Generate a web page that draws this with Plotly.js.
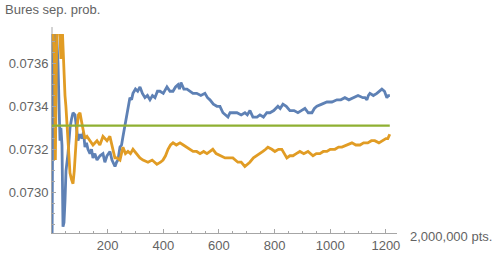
<!DOCTYPE html>
<html>
<head>
<meta charset="utf-8">
<script src="https://cdn.plot.ly/plotly-3.0.1.min.js"></script>
<style>html,body{margin:0;padding:0;background:#fff;}#chart{width:500px;height:257px;}</style>
</head>
<body>
<div id="chart"></div>
<script>
// Data (x in units shown on the axis, y = Bures separability probability)
const blueX = [0, 2, 4, 7, 10, 14, 18, 21.6, 25, 28.7, 32, 35.9, 39.5, 43.1, 46.7, 50.3, 57.5, 64.7, 70, 75.5, 82.6, 89.8, 93.4, 100.6, 107.8, 113, 118.6, 124, 129.3, 136.5, 142, 147.3, 154, 161.7, 172.5, 183.2, 190, 197.6, 208.4, 215.6, 226.4, 232, 237.1, 244.3, 250, 255.1, 262.3, 268, 273.1, 280, 286, 291, 300, 308, 316.2, 325, 334.1, 343, 352.1, 361, 370.1, 379, 388, 400, 413.2, 424, 434.8, 444, 452.7, 458, 463.5, 474, 485.1, 496, 506.6, 520, 535, 549.7, 559, 567.7, 580, 592.8, 603.6, 614.4, 621.6, 632.4, 640, 650.3, 664.7, 680, 693.4, 702, 711.4, 722.2, 736.6, 747.3, 760, 772, 783.3, 797, 812, 820, 830, 842, 855.1, 870, 883.9, 896, 909, 921, 934.2, 943, 952.1, 970, 988.1, 1006, 1024, 1038, 1052.7, 1067, 1081.5, 1100, 1117.4, 1125, 1131.8, 1137, 1142.6, 1155, 1167.7, 1177, 1185.7, 1195, 1203.6, 1209, 1214.4];
const blueY = [0.07270, 0.07380, 0.07380, 0.07372, 0.07366, 0.07380, 0.07372, 0.07360, 0.07342, 0.07324, 0.07330, 0.07322, 0.07284, 0.07286, 0.07296, 0.07310, 0.07318, 0.07330, 0.07334, 0.07337, 0.07336, 0.07326, 0.07324, 0.07327, 0.07325, 0.07328, 0.07321, 0.07323, 0.07320, 0.07318, 0.07320, 0.07316, 0.07318, 0.07315, 0.07317, 0.07318, 0.07314, 0.07317, 0.07319, 0.07315, 0.07312, 0.07314, 0.07315, 0.07321, 0.07322, 0.07326, 0.07331, 0.07335, 0.07339, 0.07344, 0.07343, 0.07346, 0.07348, 0.07347, 0.07349, 0.07346, 0.07344, 0.07345, 0.07343, 0.07345, 0.07344, 0.07347, 0.07347, 0.07346, 0.07349, 0.07347, 0.07347, 0.07349, 0.07350, 0.07348, 0.07351, 0.07348, 0.07348, 0.07347, 0.07346, 0.07346, 0.07345, 0.07346, 0.07344, 0.07343, 0.07341, 0.07340, 0.07340, 0.07337, 0.07336, 0.07335, 0.07337, 0.07337, 0.07337, 0.07336, 0.07337, 0.07336, 0.07338, 0.07335, 0.07335, 0.07336, 0.07335, 0.07337, 0.07337, 0.07338, 0.07340, 0.07339, 0.07341, 0.07340, 0.07338, 0.07338, 0.07337, 0.07338, 0.07339, 0.07337, 0.07337, 0.07339, 0.07340, 0.07341, 0.07342, 0.07342, 0.07343, 0.07343, 0.07344, 0.07343, 0.07344, 0.07345, 0.07344, 0.07344, 0.07343, 0.07345, 0.07346, 0.07345, 0.07346, 0.07347, 0.07348, 0.07347, 0.07344, 0.07345, 0.07345];

const orangeX = [0, 3.6, 5, 9, 12, 14, 17, 21.6, 28.7, 32, 35.9, 39.5, 43.1, 46.7, 50, 53.9, 57.5, 61, 64.7, 70, 75.5, 80, 85, 89.8, 95, 100.6, 106, 111.4, 118, 125.8, 136.5, 147.3, 161.7, 172, 183.2, 197.6, 208, 219, 226, 233.5, 244.3, 255, 264, 273, 282, 291, 303, 316, 327, 345, 360, 377, 390, 399, 408, 417, 426, 435, 447, 460, 472, 485, 496, 507, 520, 532, 545, 557, 568, 578, 590, 604, 622, 640, 650, 668, 680, 693, 711, 724, 737, 758, 768, 776, 790, 801, 814, 826, 835, 844, 855, 866, 878, 891, 905, 920, 938, 950, 963, 975, 988, 1000, 1017, 1030, 1042, 1060, 1078, 1092, 1107, 1120, 1135, 1148, 1160, 1175, 1189, 1200, 1207, 1214];
const orangeY = [0.07380, 0.07380, 0.07372, 0.07360, 0.07315, 0.07340, 0.07375, 0.07380, 0.07372, 0.07362, 0.07380, 0.07368, 0.07355, 0.07345, 0.07340, 0.07330, 0.07324, 0.07315, 0.07309, 0.07306, 0.07304, 0.07310, 0.07322, 0.07330, 0.07336, 0.07337, 0.07333, 0.07330, 0.07325, 0.07326, 0.07324, 0.07322, 0.07324, 0.07322, 0.07326, 0.07324, 0.07326, 0.07320, 0.07316, 0.07316, 0.07315, 0.07321, 0.07318, 0.07319, 0.07318, 0.07320, 0.07318, 0.07316, 0.07315, 0.07314, 0.07315, 0.07313, 0.07314, 0.07315, 0.07317, 0.07320, 0.07322, 0.07323, 0.07322, 0.07323, 0.07322, 0.07321, 0.07320, 0.07319, 0.07319, 0.07318, 0.07319, 0.07318, 0.07319, 0.07320, 0.07318, 0.07317, 0.07316, 0.07316, 0.07316, 0.07314, 0.07314, 0.07312, 0.07314, 0.07316, 0.07317, 0.07319, 0.07320, 0.07321, 0.07320, 0.07319, 0.07320, 0.07320, 0.07318, 0.07316, 0.07317, 0.07317, 0.07318, 0.07319, 0.07318, 0.07319, 0.07317, 0.07318, 0.07318, 0.07319, 0.07319, 0.07320, 0.07320, 0.07321, 0.07321, 0.07322, 0.07323, 0.07322, 0.07322, 0.07323, 0.07323, 0.07324, 0.07324, 0.07323, 0.07324, 0.07325, 0.07325, 0.07327];

const greenX = [0, 1214];
const greenY = [0.07331, 0.07331];

const xTickVals = [200, 400, 600, 800, 1000, 1200];
const xTickText = ['200', '400', '600', '800', '1000', '1200'];
const yTickVals = [0.0730, 0.0732, 0.0734, 0.0736];
const yTickText = ['0.0730', '0.0732', '0.0734', '0.0736'];

const yLabel = 'Bures sep. prob.';
const xLabel = '2,000,000 pts.';

const axisColor = '#a6a6a6';
const textColor = '#636363';
const fontFam = 'Liberation Sans, Arial, sans-serif';

const traces = [
  {x: blueX, y: blueY, mode: 'lines', line: {color: '#5E81B5', width: 2.8}, hoverinfo: 'skip'},
  {x: orangeX, y: orangeY, mode: 'lines', line: {color: '#E19C24', width: 2.8}, hoverinfo: 'skip'},
  {x: greenX, y: greenY, mode: 'lines', line: {color: '#8FB032', width: 2.4}, hoverinfo: 'skip'}
];

const layout = {
  width: 500, height: 257,
  margin: {l: 52, r: 103, t: 34, b: 24, pad: 0},
  paper_bgcolor: '#fff', plot_bgcolor: '#fff',
  showlegend: false,
  font: {family: fontFam, size: 13, color: textColor},
  xaxis: {
    range: [0, 1240], showgrid: false, zeroline: false,
    showline: true, linecolor: axisColor, linewidth: 1,
    tickmode: 'array', tickvals: xTickVals, ticktext: xTickText,
    ticks: 'inside', ticklen: 4, tickcolor: axisColor, tickwidth: 1,
    tickfont: {family: fontFam, size: 13, color: textColor},
    minor: {dtick: 50, tick0: 0, ticks: 'inside', ticklen: 2.5, tickcolor: axisColor, showgrid: false},
    fixedrange: true
  },
  yaxis: {
    range: [0.072811, 0.073736], showgrid: false, zeroline: false,
    showline: true, linecolor: axisColor, linewidth: 1,
    tickmode: 'array', tickvals: yTickVals, ticktext: yTickText,
    ticks: 'inside', ticklen: 4, tickcolor: axisColor, tickwidth: 1,
    tickfont: {family: fontFam, size: 13, color: textColor},
    minor: {dtick: 0.00005, tick0: 0.0728, ticks: 'inside', ticklen: 2.5, tickcolor: axisColor, showgrid: false},
    fixedrange: true
  },
  shapes: [
    {type: 'line', xref: 'paper', yref: 'paper', x0: 0, x1: 0, y0: 1, y1: 1.035, line: {color: axisColor, width: 1}}
  ],
  annotations: [
    {text: yLabel, xref: 'paper', yref: 'paper', x: -0.142, y: 1.125, xanchor: 'left', yanchor: 'middle', showarrow: false,
     font: {family: fontFam, size: 13, color: textColor}},
    {text: xLabel, xref: 'paper', yref: 'paper', x: 1.032, y: -0.02, xanchor: 'left', yanchor: 'middle', showarrow: false,
     font: {family: fontFam, size: 13, color: textColor}}
  ]
};

Plotly.newPlot('chart', traces, layout, {staticPlot: true, displayModeBar: false});
</script>
</body>
</html>
